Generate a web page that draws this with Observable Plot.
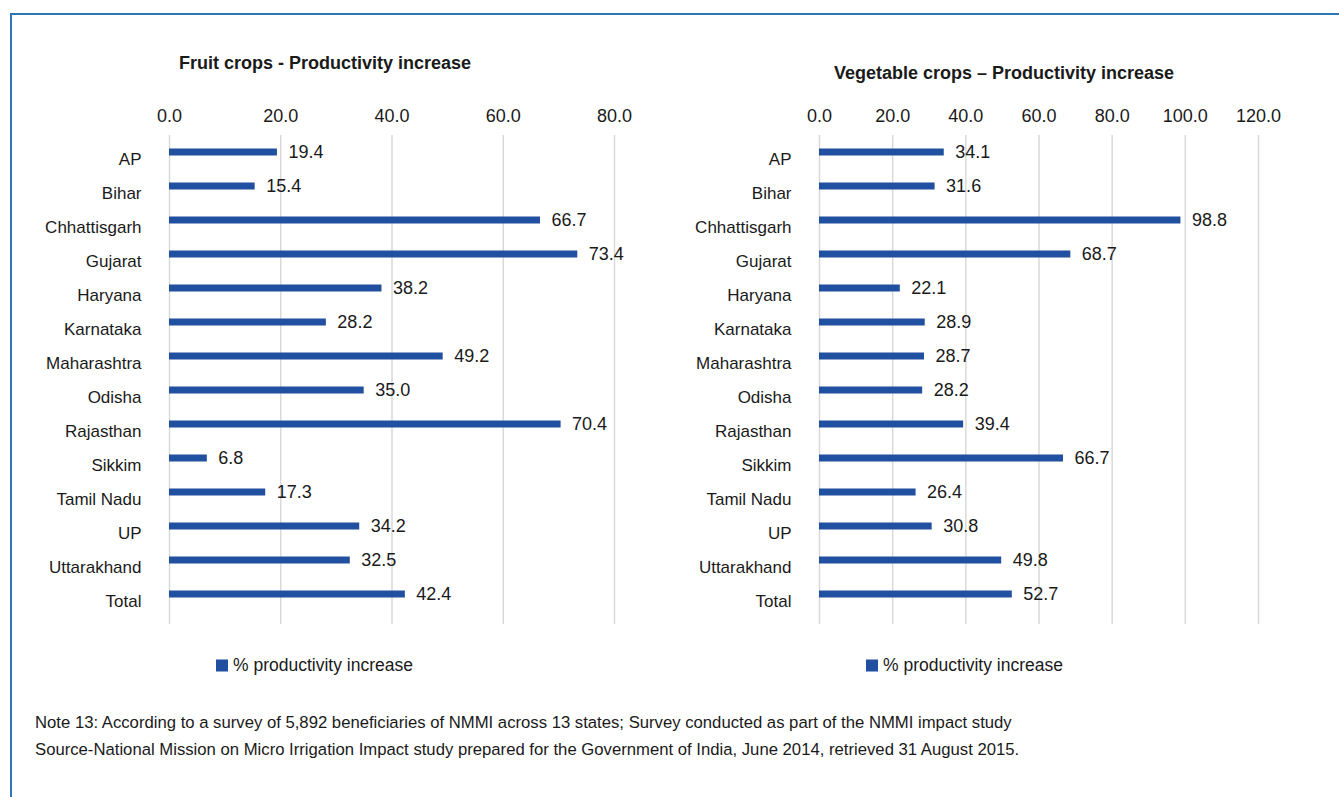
<!DOCTYPE html>
<html>
<head>
<meta charset="utf-8">
<script src="https://cdn.jsdelivr.net/npm/d3@7"></script>
<script src="https://cdn.jsdelivr.net/npm/@observablehq/plot@0.6"></script>
<style>
  html, body { margin: 0; padding: 0; background: #fff; }
  #page { position: relative; width: 1339px; height: 797px; overflow: hidden; font-family: "Liberation Sans", Arial, sans-serif; color: #1a1a1a; }
  #frame { position: absolute; left: 10px; top: 13px; width: 1400px; height: 900px; border-top: 2px solid #2e75b6; border-left: 2px solid #2e75b6; }
  .title { position: absolute; font-weight: bold; font-size: 18px; white-space: nowrap; transform: translate(-50%, -50%); }
  .legend { position: absolute; font-size: 17.5px; white-space: nowrap; display: flex; align-items: center; transform: translateY(-50%); }
  .legend .sw { width: 12px; height: 12px; background: #2150a0; margin-right: 5px; }
  .note { position: absolute; left: 35px; font-size: 16.7px; white-space: nowrap; transform: translateY(-50%); }
  .chart { position: absolute; top: 0; }
</style>
</head>
<body>
<div id="page">
  <div id="frame"></div>
  <div class="title" style="left:325px; top:63px;">Fruit crops - Productivity increase</div>
  <div class="title" style="left:1004px; top:73px;">Vegetable crops – Productivity increase</div>
  <div id="left" class="chart" style="left:0px;"></div>
  <div id="right" class="chart" style="left:650px;"></div>
  <div class="legend" style="left:216px; top:665px;"><span class="sw"></span>% productivity increase</div>
  <div class="legend" style="left:866px; top:665px;"><span class="sw"></span>% productivity increase</div>
  <div class="note" style="top:723px;">Note 13: According to a survey of 5,892 beneficiaries of NMMI across 13 states; Survey conducted as part of the NMMI impact study</div>
  <div class="note" style="top:750px;">Source-National Mission on Micro Irrigation Impact study prepared for the Government of India, June 2014, retrieved 31 August 2015.</div>
</div>
<script>
const states = ["AP", "Bihar", "Chhattisgarh", "Gujarat", "Haryana", "Karnataka", "Maharashtra", "Odisha", "Rajasthan", "Sikkim", "Tamil Nadu", "UP", "Uttarakhand", "Total"];
const fruitValues = [19.4, 15.4, 66.7, 73.4, 38.2, 28.2, 49.2, 35.0, 70.4, 6.8, 17.3, 34.2, 32.5, 42.4];
const vegetableValues = [34.1, 31.6, 98.8, 68.7, 22.1, 28.9, 28.7, 28.2, 39.4, 66.7, 26.4, 30.8, 49.8, 52.7];
const fruitTicks = [0, 20, 40, 60, 80];
const vegetableTicks = [0, 20, 40, 60, 80, 100, 120];

const barColor = "#2150a0";
const fmt = d => d.toFixed(1);

function makeChart(values, ticks, width, marginRight) {
  const data = states.map((s, i) => ({state: s, value: values[i]}));
  return Plot.plot({
    width,
    height: 640,
    marginLeft: 169,
    marginRight,
    marginTop: 135,
    marginBottom: 16,
    style: {fontFamily: '"Liberation Sans", Arial, sans-serif', fontSize: "17px", color: "#1a1a1a", background: "transparent"},
    x: {domain: [ticks[0], ticks[ticks.length - 1]], axis: null},
    y: {type: "band", domain: states, paddingInner: 0, paddingOuter: 0.087, align: 0, axis: null},
    marks: [
      Plot.gridX(ticks, {stroke: "#d9d9d9", strokeOpacity: 1, strokeWidth: 1.5}),
      Plot.axisX({anchor: "top", ticks, tickFormat: fmt, tickSize: 0, tickPadding: 14, fontSize: 18, label: null}),
      Plot.axisY({anchor: "left", tickSize: 0, tickPadding: 28, fontSize: 17, dy: 7, label: null}),
      Plot.barX(data, {x: "value", y: "state", fill: barColor, insetTop: 13.5, insetBottom: 13.5}),
      Plot.text(data, {x: "value", y: "state", text: d => fmt(d.value), textAnchor: "start", dx: 11, fontSize: 18, fill: "#1a1a1a"})
    ]
  });
}

document.getElementById("left").appendChild(makeChart(fruitValues, fruitTicks, 660, 46));
document.getElementById("right").appendChild(makeChart(vegetableValues, vegetableTicks, 689, 81));
</script>
</body>
</html>
